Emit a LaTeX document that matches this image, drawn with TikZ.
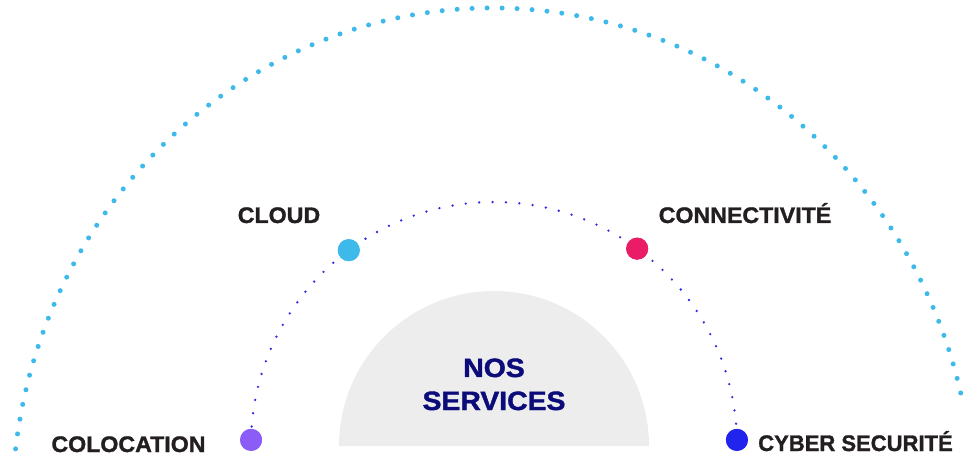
\documentclass[tikz,border=0pt]{standalone}
\usepackage{fontspec}
\setmainfont{Liberation Sans}
\newfontfamily\labelfont{Liberation Sans}[BoldFeatures={FakeBold=1.3,FakeStretch=1.03}]
\newfontfamily\titlefont{Liberation Sans}[BoldFeatures={FakeBold=1.5,FakeStretch=1.07}]
\definecolor{skyblue}{HTML}{3DB9EA}
\definecolor{innerblue}{HTML}{2E2EE6}
\definecolor{pinkred}{HTML}{EA1C68}
\definecolor{violet}{HTML}{8B5CF6}
\definecolor{deepblue}{HTML}{2323EE}
\definecolor{softgray}{HTML}{EDEDED}
\definecolor{navy}{HTML}{0B0B7A}
\definecolor{inkdark}{HTML}{231F20}
\tikzset{
  servicedot/.style={circle, inner sep=0pt, minimum size=22pt},
  servicelabel/.style={anchor=base, inner sep=0pt, text=inkdark,
    font=\labelfont\fontsize{22.5}{24}\selectfont\bfseries},
  titletext/.style={anchor=base, inner sep=0pt, text=navy,
    font=\titlefont\fontsize{26.5}{28}\selectfont\bfseries},
  outerdots/.style={draw=skyblue, line width=5pt, line cap=round,
    dash pattern=on 0pt off 15pt},
  innerdots/.style={draw=innerblue, line width=2.6pt, line cap=round,
    dash pattern=on 0pt off 13.4pt},
}
\begin{document}
\begin{tikzpicture}[x=1pt,y=1pt]
\useasboundingbox (0,0) rectangle (963,455);
% centres
\coordinate (c) at (494,10);
\coordinate (oc) at (493,-55);
% outer dotted arc
\draw[outerdots] ([shift={(173:481 and 502)}]oc) arc[start angle=173, end angle=13.2, x radius=481, y radius=502];
% grey half disc
\fill[softgray] (339,9) arc[start angle=180, end angle=0, radius=155] -- cycle;
% dots
\node[servicedot, fill=violet] (colo) at ([shift={(178.8:243)}]c) {};
\node[servicedot, fill=skyblue] (cloud) at ([shift={(126.7:243)}]c) {};
\node[servicedot, fill=pinkred] (conn) at ([shift={(53.9:243)}]c) {};
\node[servicedot, fill=deepblue] (cyber) at ([shift={(1.2:243)}]c) {};
% inner dotted arc from node to node
\draw[innerdots] (colo.center) arc[start angle=178.8, end angle=1.2, radius=243];
% dots on top of the arc
\fill[violet] (colo) circle (11pt);
\fill[skyblue] (cloud) circle (11pt);
\fill[pinkred] (conn) circle (11pt);
\fill[deepblue] (cyber) circle (11pt);
% labels
\node[servicelabel] (lcloud) at (279,232) {CLOUD};
\node[servicelabel] (lconn) at (745,232) {CONNECTIVITÉ};
\node[servicelabel] (lcolo) at (128.5,3) {COLOCATION};
\node[servicelabel] (lcyber) at (855.5,4) {\scalebox{0.95}[1]{CYBER SECURITÉ}};
\node[titletext] (nos) at (494,78) {NOS};
\node[titletext] (serv) at (494,45) {SERVICES};
\end{tikzpicture}
\end{document}
